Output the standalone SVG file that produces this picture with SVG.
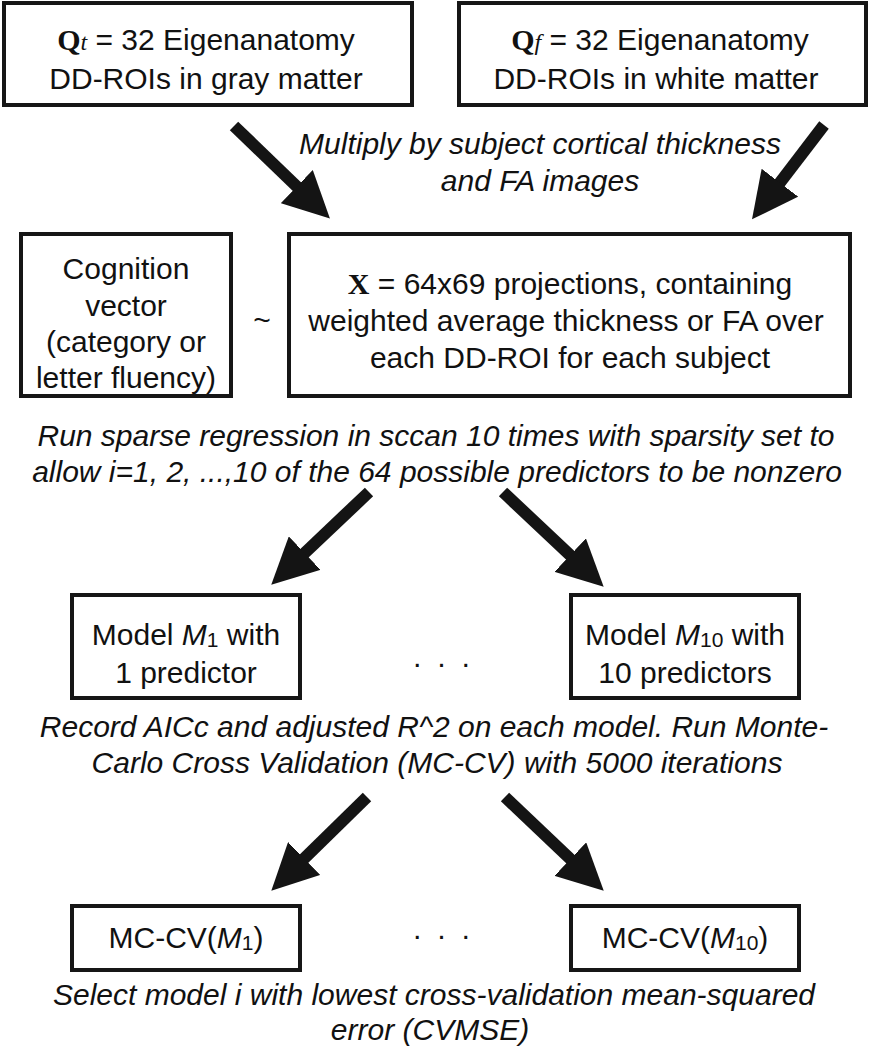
<svg xmlns="http://www.w3.org/2000/svg" width="872" height="1050" viewBox="0 0 872 1050">
<defs>
<style>
.box{fill:#fff;stroke:#161616;stroke-width:4}
.t{font-family:"Liberation Sans",Arial,sans-serif;font-size:30px;fill:#111;text-anchor:middle}
.it{font-family:"Liberation Sans",Arial,sans-serif;font-size:30px;font-style:italic;fill:#111;text-anchor:middle}
.bs{font-family:"Liberation Serif","Times New Roman",serif;font-weight:bold}
.is{font-family:"Liberation Serif","Times New Roman",serif;font-style:italic;font-size:24px}
.im{font-style:italic}
.sub{font-size:21px}
.shaft{stroke:#141414;stroke-width:12;fill:none;marker-end:url(#head)}
</style>
<marker id="head" viewBox="0 0 46 46" refX="5" refY="23" markerWidth="46" markerHeight="46" markerUnits="userSpaceOnUse" orient="auto">
<path d="M0,0 L46,23 L0,46 Z" fill="#141414"/>
</marker>
</defs>
<rect width="872" height="1050" fill="#fff"/>

<g id="qt">
<rect class="box" x="4" y="3" width="408" height="102"/>
<text class="t" x="206" y="50"><tspan class="bs">Q</tspan><tspan class="is">t</tspan> = 32 Eigenanatomy</text>
<text class="t" x="206" y="89">DD-ROIs in gray matter</text>
</g>

<g id="qf">
<rect class="box" x="459" y="3" width="407" height="102"/>
<text class="t" x="660" y="50"><tspan class="bs">Q</tspan><tspan class="is">f</tspan> = 32 Eigenanatomy</text>
<text class="t" x="656" y="89">DD-ROIs in white matter</text>
</g>

<g id="lbl-multiply">
<text class="it" x="540" y="154">Multiply by subject cortical thickness</text>
<text class="it" x="540" y="191">and FA images</text>
</g>

<g id="cognition">
<rect class="box" x="21" y="234" width="210" height="162"/>
<text class="t" x="126" y="279">Cognition</text>
<text class="t" x="126" y="316">vector</text>
<text class="t" x="126" y="352">(category or</text>
<text class="t" x="126" y="388">letter fluency)</text>
</g>

<g id="tilde">
<text class="t" x="262" y="330">~</text>
</g>

<g id="xmat">
<rect class="box" x="289" y="234" width="561" height="162"/>
<text class="t" x="570" y="294"><tspan class="bs">X</tspan> = 64x69 projections, containing</text>
<text class="t" x="566" y="331">weighted average thickness or FA over</text>
<text class="t" x="570" y="368">each DD-ROI for each subject</text>
</g>

<g id="lbl-sparse">
<text class="it" x="436" y="446">Run sparse regression in sccan 10 times with sparsity set to</text>
<text class="it" x="437" y="482">allow i=1, 2, ...,10 of the 64 possible predictors to be nonzero</text>
</g>

<g id="m1">
<rect class="box" x="72" y="595" width="228" height="103"/>
<text class="t" x="186" y="645">Model <tspan class="im">M</tspan><tspan class="sub" dy="2">1</tspan><tspan dy="-2"> with</tspan></text>
<text class="t" x="186" y="683">1 predictor</text>
</g>

<g id="dots1">
<text class="t" x="443" y="673" letter-spacing="3">· · ·</text>
</g>

<g id="m10">
<rect class="box" x="571" y="595" width="228" height="103"/>
<text class="t" x="685" y="645">Model <tspan class="im">M</tspan><tspan class="sub" dy="2">10</tspan><tspan dy="-2"> with</tspan></text>
<text class="t" x="685" y="683">10 predictors</text>
</g>

<g id="lbl-record">
<text class="it" x="434" y="737">Record AICc and adjusted R^2 on each model. Run Monte-</text>
<text class="it" x="437" y="773">Carlo Cross Validation (MC-CV) with 5000 iterations</text>
</g>

<g id="cv1">
<rect class="box" x="72" y="906" width="228" height="64"/>
<text class="t" x="186" y="948">MC-CV(<tspan class="im">M</tspan><tspan class="sub" dy="2">1</tspan><tspan dy="-2">)</tspan></text>
</g>

<g id="dots2">
<text class="t" x="443" y="945" letter-spacing="3">· · ·</text>
</g>

<g id="cv10">
<rect class="box" x="571" y="906" width="228" height="64"/>
<text class="t" x="685" y="948">MC-CV(<tspan class="im">M</tspan><tspan class="sub" dy="2">10</tspan><tspan dy="-2">)</tspan></text>
</g>

<g id="lbl-select">
<text class="it" x="434" y="1005">Select model i with lowest cross-validation mean-squared</text>
<text class="it" x="430" y="1040">error (CVMSE)</text>
</g>

<g id="connectors">
<line class="shaft" x1="234" y1="126" x2="300.4" y2="190"/>
<line class="shaft" x1="824" y1="125" x2="776.9" y2="186.7"/>
<line class="shaft" x1="369" y1="492" x2="301" y2="556.5"/>
<line class="shaft" x1="503" y1="492" x2="573.8" y2="558.6"/>
<line class="shaft" x1="367" y1="797" x2="300.6" y2="862"/>
<line class="shaft" x1="505" y1="797" x2="574" y2="862.5"/>
</g>
</svg>
